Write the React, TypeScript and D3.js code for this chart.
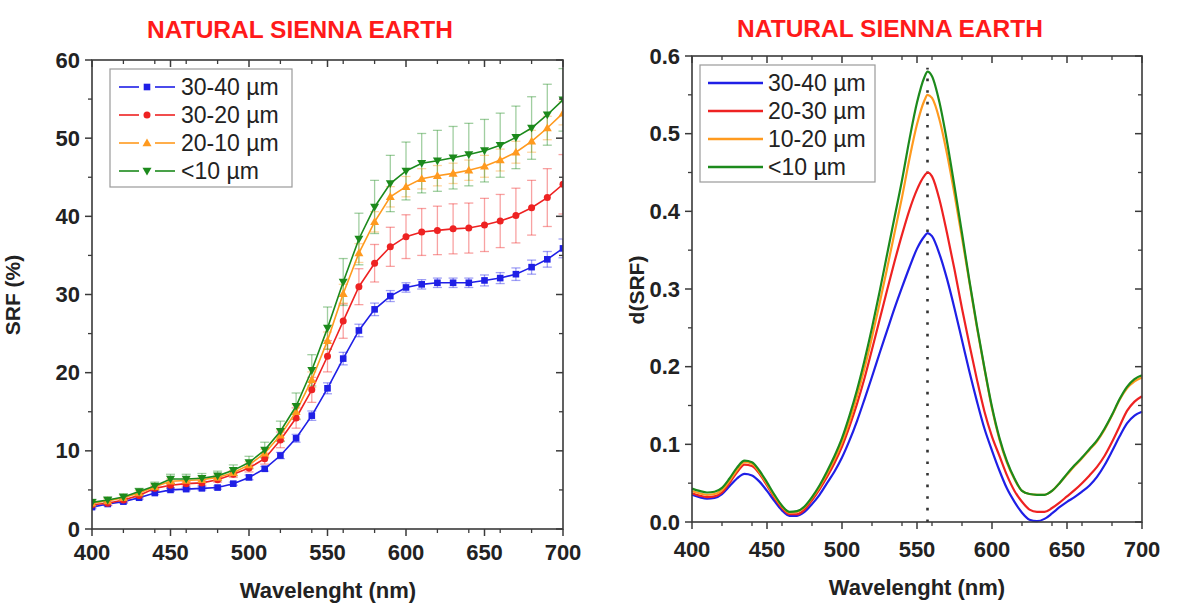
import React from 'react';
import * as d3 from 'd3';

// ---------- Left chart: SRF (%) ----------
const srfWavelengths = [400, 410, 420, 430, 440, 450, 460, 470, 480, 490, 500, 510, 520, 530, 540, 550, 560, 570, 580, 590, 600, 610, 620, 630, 640, 650, 660, 670, 680, 690, 700];
const srf3040 = [2.8, 3.2, 3.5, 4.0, 4.6, 5.0, 5.1, 5.2, 5.3, 5.8, 6.6, 7.7, 9.4, 11.6, 14.5, 18.0, 21.8, 25.4, 28.1, 29.8, 30.9, 31.3, 31.5, 31.5, 31.5, 31.8, 32.1, 32.6, 33.5, 34.5, 35.9];
const srf3020 = [3.1, 3.3, 3.7, 4.3, 5.2, 5.6, 5.8, 5.9, 6.3, 7.0, 7.8, 9.0, 11.4, 14.2, 17.8, 22.1, 26.6, 31.0, 34.0, 36.1, 37.4, 38.0, 38.2, 38.4, 38.5, 38.9, 39.4, 40.1, 41.1, 42.4, 44.1];
const srf2010 = [3.3, 3.6, 4.0, 4.6, 5.4, 6.1, 6.2, 6.3, 6.6, 7.2, 8.2, 9.7, 12.0, 15.0, 19.1, 24.1, 30.1, 35.3, 39.3, 42.5, 43.8, 44.8, 45.2, 45.5, 45.9, 46.4, 47.2, 48.2, 49.6, 51.3, 53.2];
const srf10 = [3.4, 3.7, 4.1, 4.8, 5.5, 6.4, 6.4, 6.5, 6.8, 7.5, 8.5, 10.1, 12.5, 15.7, 20.3, 25.7, 31.6, 37.1, 41.2, 44.2, 45.8, 46.8, 47.1, 47.5, 47.9, 48.4, 49.1, 50.1, 51.3, 53.0, 54.9];
const err3040 = [0.2, 0.2, 0.2, 0.2, 0.2, 0.2, 0.2, 0.2, 0.2, 0.2, 0.3, 0.3, 0.4, 0.5, 0.6, 0.7, 0.8, 0.8, 0.8, 0.7, 0.6, 0.6, 0.6, 0.6, 0.6, 0.7, 0.7, 0.8, 0.9, 1.0, 1.2];
const err3020 = [0.3, 0.3, 0.3, 0.3, 0.3, 0.3, 0.3, 0.3, 0.3, 0.4, 0.5, 0.7, 1.0, 1.3, 1.6, 2.0, 2.2, 2.3, 2.4, 2.5, 2.8, 3.0, 3.1, 3.2, 3.2, 3.4, 3.4, 3.5, 3.5, 3.7, 3.8];
const err2010 = [0.3, 0.3, 0.3, 0.3, 0.3, 0.3, 0.3, 0.3, 0.3, 0.3, 0.4, 0.5, 0.7, 0.9, 1.0, 1.1, 1.2, 1.2, 1.3, 1.3, 1.3, 1.3, 1.3, 1.3, 1.3, 1.4, 1.4, 1.4, 1.4, 1.5, 1.5];
const err10 = [0.4, 0.4, 0.4, 0.4, 0.5, 0.6, 0.6, 0.6, 0.6, 0.7, 0.8, 1.0, 1.3, 1.7, 2.0, 2.7, 3.0, 3.3, 3.4, 3.6, 3.7, 3.8, 3.9, 4.0, 4.0, 4.0, 4.1, 4.0, 4.0, 3.9, 4.0];
const srfLabels = ['30-40 µm', '30-20 µm', '20-10 µm', '<10 µm'];

// ---------- Right chart: d(SRF) ----------
const dWavelengths = [400, 405, 410, 415, 420, 425, 430, 435, 440, 445, 450, 455, 460, 465, 470, 475, 480, 485, 490, 495, 500, 505, 510, 515, 520, 525, 530, 535, 540, 545, 550, 555, 557, 560, 565, 570, 575, 580, 585, 590, 595, 600, 605, 610, 615, 620, 625, 630, 635, 640, 645, 650, 655, 660, 665, 670, 675, 680, 685, 690, 695, 700];
const d3040 = [0.035, 0.032, 0.030, 0.031, 0.036, 0.046, 0.056, 0.062, 0.060, 0.052, 0.040, 0.027, 0.015, 0.008, 0.008, 0.013, 0.023, 0.035, 0.050, 0.065, 0.083, 0.105, 0.130, 0.158, 0.187, 0.217, 0.246, 0.275, 0.302, 0.328, 0.352, 0.368, 0.372, 0.368, 0.345, 0.313, 0.275, 0.234, 0.193, 0.155, 0.120, 0.092, 0.066, 0.043, 0.026, 0.012, 0.003, 0.001, 0.004, 0.011, 0.019, 0.026, 0.032, 0.039, 0.047, 0.058, 0.073, 0.091, 0.110, 0.127, 0.137, 0.142];
const d2030 = [0.037, 0.034, 0.032, 0.033, 0.038, 0.050, 0.064, 0.074, 0.072, 0.062, 0.047, 0.031, 0.018, 0.010, 0.010, 0.016, 0.028, 0.042, 0.058, 0.076, 0.097, 0.123, 0.152, 0.185, 0.222, 0.260, 0.298, 0.335, 0.370, 0.402, 0.428, 0.446, 0.450, 0.445, 0.415, 0.372, 0.325, 0.275, 0.228, 0.183, 0.142, 0.110, 0.085, 0.060, 0.040, 0.026, 0.016, 0.013, 0.013, 0.018, 0.025, 0.033, 0.041, 0.050, 0.060, 0.071, 0.085, 0.103, 0.123, 0.143, 0.155, 0.162];
const d1020 = [0.040, 0.037, 0.035, 0.036, 0.041, 0.053, 0.067, 0.077, 0.075, 0.064, 0.049, 0.033, 0.020, 0.012, 0.013, 0.019, 0.031, 0.045, 0.062, 0.081, 0.103, 0.130, 0.162, 0.198, 0.238, 0.281, 0.326, 0.372, 0.418, 0.468, 0.512, 0.543, 0.550, 0.546, 0.518, 0.474, 0.422, 0.366, 0.308, 0.250, 0.197, 0.146, 0.106, 0.076, 0.055, 0.040, 0.036, 0.035, 0.035, 0.040, 0.050, 0.061, 0.072, 0.082, 0.093, 0.104, 0.119, 0.137, 0.157, 0.172, 0.181, 0.186];
const d10 = [0.043, 0.040, 0.038, 0.039, 0.044, 0.056, 0.070, 0.079, 0.077, 0.066, 0.051, 0.035, 0.021, 0.013, 0.014, 0.020, 0.032, 0.047, 0.065, 0.085, 0.108, 0.137, 0.170, 0.208, 0.250, 0.296, 0.344, 0.392, 0.440, 0.493, 0.540, 0.573, 0.580, 0.574, 0.540, 0.490, 0.432, 0.372, 0.310, 0.252, 0.198, 0.148, 0.108, 0.078, 0.056, 0.040, 0.036, 0.035, 0.035, 0.040, 0.050, 0.062, 0.073, 0.083, 0.094, 0.105, 0.120, 0.138, 0.158, 0.174, 0.184, 0.189];
const dLabels = ['30-40 µm', '20-30 µm', '10-20 µm', '<10 µm'];
const peakWavelength = 557;

const titleText = 'NATURAL SIENNA EARTH';
const xTitle = 'Wavelenght (nm)';

const colors = ['#1f1fe6', '#ee2222', '#ff9a1f', '#1c8a1c'];
const FONT = '"Liberation Sans", Arial, Helvetica, sans-serif';
const AXIS = '#3a3a3a';

type AxesProps = {
  x: d3.ScaleLinear<number, number>;
  y: d3.ScaleLinear<number, number>;
  yFmt: (v: number) => string;
  xLabelY: number;
};

function Axes({ x, y, yFmt, xLabelY }: AxesProps) {
  const [x0, x1] = x.range();
  const [y0, y1] = y.range();
  const xMajor = x.ticks(6);
  const xMinor = x.ticks(12).filter((t) => !xMajor.includes(t));
  const yMajor = y.ticks(6);
  const yMinorAll = y.ticks(12);
  const yMinor = yMinorAll.filter((t) => !yMajor.some((m) => Math.abs(m - t) < 1e-9));
  const M = 7;
  const m = 4;
  return (
    <g>
      <rect x={x0} y={y1} width={x1 - x0} height={y0 - y1} fill="none" stroke={AXIS} strokeWidth={1.6} />
      {xMajor.map((t) => (
        <g key={'xM' + t}>
          <line x1={x(t)} x2={x(t)} y1={y0} y2={y0 + M} stroke={AXIS} strokeWidth={1.5} />
          <line x1={x(t)} x2={x(t)} y1={y1} y2={y1 + M} stroke={AXIS} strokeWidth={1.5} />
          <text x={x(t)} y={xLabelY} textAnchor="middle" fontFamily={FONT} fontWeight="bold" fontSize={22} fill="#222">
            {t}
          </text>
        </g>
      ))}
      {xMinor.map((t) => (
        <g key={'xm' + t}>
          <line x1={x(t)} x2={x(t)} y1={y0} y2={y0 + m} stroke={AXIS} strokeWidth={1.3} />
          <line x1={x(t)} x2={x(t)} y1={y1} y2={y1 + m} stroke={AXIS} strokeWidth={1.3} />
        </g>
      ))}
      {yMajor.map((t) => (
        <g key={'yM' + t}>
          <line x1={x0} x2={x0 - M} y1={y(t)} y2={y(t)} stroke={AXIS} strokeWidth={1.5} />
          <line x1={x1} x2={x1 - M} y1={y(t)} y2={y(t)} stroke={AXIS} strokeWidth={1.5} />
          <text x={x0 - 12} y={y(t) + 7.5} textAnchor="end" fontFamily={FONT} fontWeight="bold" fontSize={22} fill="#222">
            {yFmt(t)}
          </text>
        </g>
      ))}
      {yMinor.map((t) => (
        <g key={'ym' + t}>
          <line x1={x0} x2={x0 - m} y1={y(t)} y2={y(t)} stroke={AXIS} strokeWidth={1.3} />
          <line x1={x1} x2={x1 - m} y1={y(t)} y2={y(t)} stroke={AXIS} strokeWidth={1.3} />
        </g>
      ))}
    </g>
  );
}

function Marker({ kind, cx, cy, color }: { kind: number; cx: number; cy: number; color: string }) {
  if (kind === 0) return <rect x={cx - 3.3} y={cy - 3.3} width={6.6} height={6.6} fill={color} />;
  if (kind === 1) return <circle cx={cx} cy={cy} r={3.5} fill={color} />;
  if (kind === 2) return <path d={`M${cx},${cy - 4.5} L${cx + 4.5},${cy + 3.3} L${cx - 4.5},${cy + 3.3} Z`} fill={color} />;
  return <path d={`M${cx},${cy + 4.5} L${cx + 4.5},${cy - 3.3} L${cx - 4.5},${cy - 3.3} Z`} fill={color} />;
}

function LeftChart() {
  const x = d3.scaleLinear().domain([400, 700]).range([92, 563]);
  const y = d3.scaleLinear().domain([0, 60]).range([529, 60]);
  const series = [srf3040, srf3020, srf2010, srf10];
  const errs = [err3040, err3020, err2010, err10];
  const line = d3
    .line<number>()
    .x((_, i) => x(srfWavelengths[i]))
    .y((d) => y(d));
  const cap = 4.5;
  return (
    <g>
      <text x={300} y={38} textAnchor="middle" fontFamily={FONT} fontWeight="bold" fontSize={24.5} fill="#ff1a1a">
        {titleText}
      </text>
      <defs>
        <clipPath id="clipL">
          <rect x={92} y={60} width={471} height={469} />
        </clipPath>
      </defs>
      <g clipPath="url(#clipL)">
        {series.map((s, si) => (
          <g key={'e' + si} stroke={colors[si]} strokeOpacity={0.42} strokeWidth={1.3}>
            {s.map((v, i) => {
              const cx = x(srfWavelengths[i]);
              const e = errs[si][i];
              return (
                <g key={i}>
                  <line x1={cx} x2={cx} y1={y(v - e)} y2={y(v + e)} />
                  <line x1={cx - cap} x2={cx + cap} y1={y(v + e)} y2={y(v + e)} />
                  <line x1={cx - cap} x2={cx + cap} y1={y(v - e)} y2={y(v - e)} />
                </g>
              );
            })}
          </g>
        ))}
        {series.map((s, si) => (
          <g key={'l' + si}>
            <path d={line(s) || ''} fill="none" stroke={colors[si]} strokeWidth={1.6} />
            {s.map((v, i) => (
              <Marker key={i} kind={si} cx={x(srfWavelengths[i])} cy={y(v)} color={colors[si]} />
            ))}
          </g>
        ))}
      </g>
      <Axes x={x} y={y} yFmt={d3.format('d')} xLabelY={560} />
      <text transform="translate(20,295) rotate(-90)" textAnchor="middle" fontFamily={FONT} fontWeight="bold" fontSize={21} fill="#222">
        SRF (%)
      </text>
      <text x={328} y={598} textAnchor="middle" fontFamily={FONT} fontWeight="bold" fontSize={22} fill="#222">
        {xTitle}
      </text>
      <g>
        <rect x={110} y={69} width={182} height={118} fill="#fff" stroke="#9a9a9a" strokeWidth={1.2} />
        {srfLabels.map((lab, i) => {
          const ly = 87 + i * 28;
          return (
            <g key={lab}>
              <line x1={119} x2={139} y1={ly} y2={ly} stroke={colors[i]} strokeWidth={1.6} />
              <line x1={155} x2={175} y1={ly} y2={ly} stroke={colors[i]} strokeWidth={1.6} />
              <Marker kind={i} cx={147} cy={ly} color={colors[i]} />
              <text x={181} y={ly + 8} fontFamily={FONT} fontSize={23} fill="#222">
                {lab}
              </text>
            </g>
          );
        })}
      </g>
    </g>
  );
}

function RightChart() {
  const x = d3.scaleLinear().domain([400, 700]).range([692, 1142]);
  const y = d3.scaleLinear().domain([0, 0.6]).range([522, 56]);
  const series = [d3040, d2030, d1020, d10];
  const line = d3
    .line<number>()
    .x((_, i) => x(dWavelengths[i]))
    .y((d) => y(d))
    .curve(d3.curveMonotoneX);
  return (
    <g>
      <text x={890} y={37} textAnchor="middle" fontFamily={FONT} fontWeight="bold" fontSize={24.5} fill="#ff1a1a">
        {titleText}
      </text>
      <line
        x1={x(peakWavelength)}
        x2={x(peakWavelength)}
        y1={y(0)}
        y2={y(0.585)}
        stroke="#333"
        strokeWidth={2.6}
        strokeDasharray="2.6,9"
      />
      {series.map((s, si) => (
        <path key={si} d={line(s) || ''} fill="none" stroke={colors[si]} strokeWidth={2.2} />
      ))}
      <Axes x={x} y={y} yFmt={d3.format('.1f')} xLabelY={557} />
      <text transform="translate(644,290) rotate(-90)" textAnchor="middle" fontFamily={FONT} fontWeight="bold" fontSize={21} fill="#222">
        d(SRF)
      </text>
      <text x={917} y={595} textAnchor="middle" fontFamily={FONT} fontWeight="bold" fontSize={22} fill="#222">
        {xTitle}
      </text>
      <g>
        <rect x={700} y={65} width={175} height={117} fill="#fff" stroke="#9a9a9a" strokeWidth={1.2} />
        {dLabels.map((lab, i) => {
          const ly = 83 + i * 28;
          return (
            <g key={lab}>
              <line x1={708} x2={763} y1={ly} y2={ly} stroke={colors[i]} strokeWidth={2.6} />
              <text x={768} y={ly + 8} fontFamily={FONT} fontSize={23} fill="#222">
                {lab}
              </text>
            </g>
          );
        })}
      </g>
    </g>
  );
}

export default function App() {
  return (
    <svg width={1181} height={605} style={{ position: 'absolute', left: 0, top: 0, background: '#fff' }}>
      <rect x={0} y={0} width={1181} height={605} fill="#fff" />
      <LeftChart />
      <RightChart />
    </svg>
  );
}
